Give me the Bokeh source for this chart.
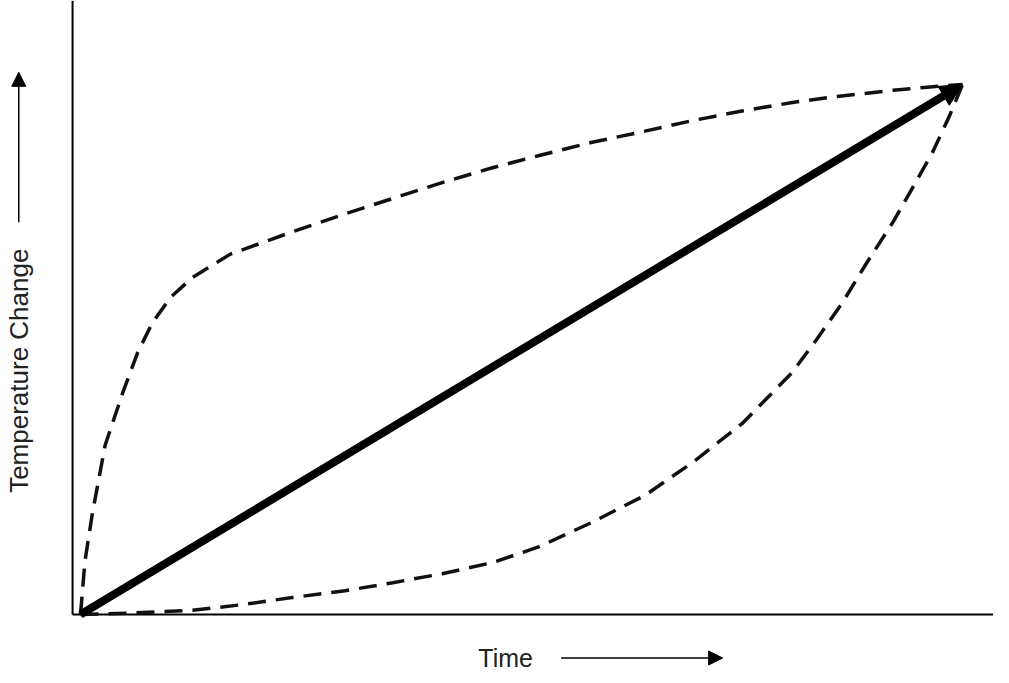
from bokeh.plotting import figure
from bokeh.models import Arrow, NormalHead, Range1d
from bokeh.core.properties import value
from bokeh.embed import file_html
from bokeh.resources import INLINE
import math

# normalised time / temperature change
fast_t = [0, 0.005, 0.0136, 0.028, 0.048, 0.065, 0.0816, 0.103, 0.127, 0.17, 0.240, 0.30, 0.354, 0.41, 0.467, 0.52, 0.580, 0.64, 0.694, 0.75, 0.807, 0.86, 0.921, 0.96, 1.0]
fast_y = [0, 0.10, 0.192, 0.32, 0.419, 0.495, 0.551, 0.600, 0.636, 0.680, 0.722, 0.756, 0.785, 0.815, 0.843, 0.866, 0.891, 0.912, 0.932, 0.950, 0.966, 0.978, 0.989, 0.995, 1.0]
slow_t = [0, 0.06, 0.127, 0.18, 0.240, 0.30, 0.354, 0.41, 0.467, 0.52, 0.580, 0.64, 0.694, 0.75, 0.807, 0.835, 0.864, 0.89, 0.921, 0.945, 0.966, 0.985, 1.0]
slow_y = [0, 0.003, 0.008, 0.018, 0.032, 0.045, 0.060, 0.077, 0.098, 0.128, 0.174, 0.225, 0.287, 0.36, 0.457, 0.52, 0.589, 0.66, 0.740, 0.81, 0.872, 0.94, 1.0]
lin_t = [0, 1.0]
lin_y = [0, 1.0]

p = figure(width=993, height=675, output_backend="svg", toolbar_location=None,
           x_range=Range1d(-0.0907, 1.0351), y_range=Range1d(-0.115, 1.1585),
           min_border=0, outline_line_color=None)
p.axis.visible = False
p.grid.visible = False

# axes lines
p.line([-0.009, -0.009], [0, 1.158], line_color="black", line_width=2)
p.line([-0.009, 1.035], [0, 0], line_color="black", line_width=2)

p.line(fast_t, fast_y, line_color="#111111", line_width=3.5, line_dash="18 10")
p.line(slow_t, slow_y, line_color="#111111", line_width=3.5, line_dash="18 10")
p.add_layout(Arrow(end=NormalHead(size=22, fill_color="black", line_color="black"),
                   x_start=lin_t[0], y_start=lin_y[0], x_end=lin_t[1], y_end=lin_y[1],
                   line_width=8, line_color="black"))

p.text([0.482], [-0.082], text=["Time"], text_font=value("Liberation Sans"),
       text_font_size="25px", text_align="center", text_baseline="middle", text_color="#222222")
p.add_layout(Arrow(end=NormalHead(size=14, fill_color="black", line_color="black"),
                   x_start=0.545, y_start=-0.082, x_end=0.728, y_end=-0.082, line_width=1.5))
p.text([-0.07], [0.46], text=["Temperature Change"], angle=math.pi / 2,
       text_font=value("Liberation Sans"), text_font_size="26px", text_align="center",
       text_baseline="middle", text_color="#222222")
p.add_layout(Arrow(end=NormalHead(size=14, fill_color="black", line_color="black"),
                   x_start=-0.07, y_start=0.74, x_end=-0.07, y_end=1.023, line_width=1.5))

open("out.html", "w").write(file_html(p, INLINE))
